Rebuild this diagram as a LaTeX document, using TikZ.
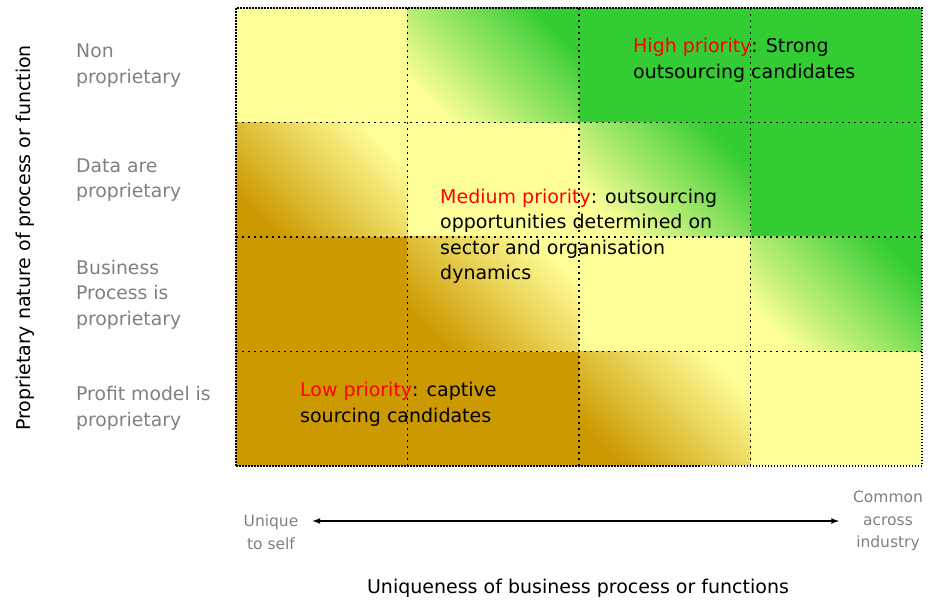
\documentclass[tikz,border=0pt]{standalone}
\usepackage{fontspec}
\setmainfont{DejaVu Sans}
\usetikzlibrary{shapes,arrows,positioning}
\definecolor{cellyellow}{HTML}{FFFF99}
\definecolor{cellgreen}{HTML}{33CC33}
\definecolor{cellbrown}{HTML}{CC9900}
\definecolor{labelgray}{HTML}{808080}
\tikzstyle{rowlabel} = [anchor=west, align=left, inner sep=0pt, text=labelgray, font=\fontsize{18.8}{25.5}\selectfont]
\tikzstyle{priority} = [anchor=west, align=left, inner sep=0pt, font=\fontsize{19}{25.5}\selectfont]
\tikzstyle{endlabel} = [align=center, inner sep=0pt, text=labelgray, font=\fontsize{15.5}{22.5}\selectfont]
\tikzstyle{axislabel} = [inner sep=0pt, font=\fontsize{19}{22}\selectfont]
\tikzstyle{togreen} = [top color=cellgreen, bottom color=cellyellow, shading angle=-45]
\tikzstyle{toyellow} = [top color=cellyellow, bottom color=cellbrown, shading angle=-45]
\tikzstyle{gridline} = [dash pattern=on 1.5pt off 4.5pt, line width=1.5pt]
\tikzstyle{border} = [dash pattern=on 1.5pt off 1.5pt, line width=1.5pt]
\tikzstyle{arrow} = [line width=1.6pt,<->,>=latex]

\begin{document}
\begin{tikzpicture}[x=1pt,y=1pt]
\useasboundingbox (0,0) rectangle (938,601);
% cell colours
\fill [cellyellow] (236,135) rectangle (922,593);
\fill [cellgreen] (579,593) -- (922,593) -- (922,364) -- (750.5,364) -- (750.5,478.5) -- (579,478.5) -- cycle;
\fill [cellbrown] (236,135) -- (579,135) -- (579,249.5) -- (407.5,249.5) -- (407.5,364) -- (236,364) -- cycle;
\shade [togreen] (407.5,478.5) rectangle (579,593);
\shade [togreen] (579,364) rectangle (750.5,478.5);
\shade [togreen] (750.5,249.5) rectangle (922,364);
\shade [toyellow] (236,364) rectangle (407.5,478.5);
\shade [toyellow] (407.5,249.5) rectangle (579,364);
\shade [toyellow] (579,135) rectangle (750.5,249.5);
% dotted grid
\draw [gridline] (407.5,135) -- (407.5,593);
\draw [gridline] (579,135) -- (579,593);
\draw [gridline] (750.5,135) -- (750.5,593);
\draw [gridline] (236,249.5) -- (922,249.5);
\draw [gridline] (236,364) -- (922,364);
\draw [gridline] (236,478.5) -- (922,478.5);
\draw [border] (236,135) rectangle (922,593);

\node (nonprop) [rowlabel] at (76,535.5) {Non\\proprietary};
\node (dataprop) [rowlabel, below=114.5pt of nonprop.west, anchor=west] {Data are\\proprietary};
\node (bizprop) [rowlabel, below=114.5pt of dataprop.west, anchor=west] {Business\\Process is\\proprietary};
\node (profitprop) [rowlabel, below=114pt of bizprop.west, anchor=west] {Profit model is\\proprietary};
\node (propaxis) [axislabel, rotate=90] at (25,363) {Proprietary nature of process or function};

\node (highprio) [priority] at (633,540.5) {\textcolor{red}{High priority}: Strong\\outsourcing candidates};
\node (medprio) [priority] at (440,364.5) {\textcolor{red}{Medium priority}: outsourcing\\opportunities determined on\\sector and organisation\\dynamics};
\node (lowprio) [priority] at (300,196.5) {\textcolor{red}{Low priority}: captive\\sourcing candidates};

\node (uniqueself) [endlabel] at (271,69) {Unique\\to self};
\node (commonind) [endlabel] at (888,80) {Common\\across\\industry};
\draw [arrow, shorten <=14pt, shorten >=14pt] (uniqueself.east |- commonind.west) -- (commonind.west);
\node (uniqaxis) [axislabel] at (578,13) {Uniqueness of business process or functions};
\end{tikzpicture}
\end{document}
